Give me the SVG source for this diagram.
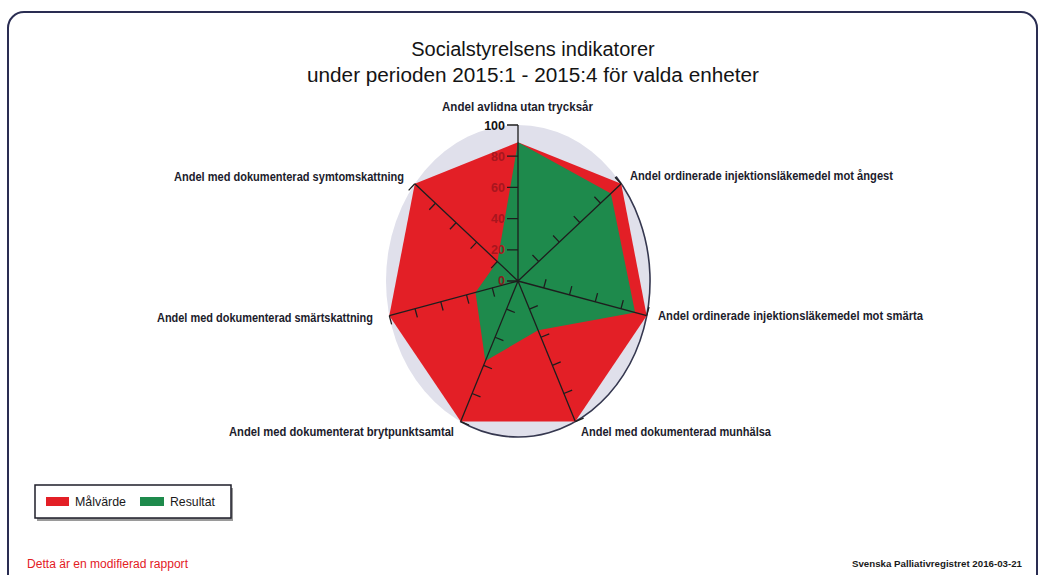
<svg xmlns="http://www.w3.org/2000/svg" width="1045" height="575" viewBox="0 0 1045 575">
  <style>
    .title { font-family: "Liberation Sans", Arial, sans-serif; font-size: 20px; fill: #141414; }
    .lbl { font-family: "Liberation Sans", Arial, sans-serif; font-size: 12.5px; font-weight: bold; fill: #1c1c2c; }
    .num { font-family: "Liberation Sans", Arial, sans-serif; font-size: 12.5px; font-weight: bold; text-anchor: end; }
    .axis { stroke: #1e1e1e; stroke-width: 1.3; fill: none; }
    .leg { font-family: "Liberation Sans", Arial, sans-serif; font-size: 13px; fill: #1a1a1a; }
  </style>
  <rect x="0" y="0" width="1045" height="575" fill="#ffffff"/>
  <g id="frame">
    <rect x="8" y="12" width="1029" height="620" rx="16" ry="16" fill="#ffffff" stroke="#2a2d52" stroke-width="2"/>
  </g>
  <g id="title">
    <text class="title" x="533" y="56" text-anchor="middle">Socialstyrelsens indikatorer</text>
    <text class="title" x="533" y="82" text-anchor="middle" textLength="452" lengthAdjust="spacingAndGlyphs">under perioden 2015:1 - 2015:4 för valda enheter</text>
  </g>
  <g id="radar">
    <ellipse id="background" cx="518" cy="281" rx="132" ry="156" fill="#e0e0eb"/>
    <path d="M 616.1 176.6 A 132 156 0 0 1 460.1 421.2" fill="none" stroke="#35374f" stroke-width="1.6"/>
    <polygon id="malvarde" points="518,142.2 621.2,183.8 646.7,315.7 575.3,421.6 460.7,421.6 389.3,315.7 414.8,183.8" fill="#e31f26"/>
    <polygon id="resultat" points="518,142.2 610.9,193.5 635.1,312.6 538.1,330.2 485.3,361.1 475.5,292.5 497.4,261.6" fill="#1e8a4c"/>
    <g id="scale">
      <text class="num" x="505" y="129.5" fill="#111">100</text>
      <text class="num" x="505" y="160.5" fill="#a8161e">80</text>
      <text class="num" x="505" y="191.5" fill="#a8161e">60</text>
      <text class="num" x="505" y="222.5" fill="#a8161e">40</text>
      <text class="num" x="505" y="254" fill="#a8161e">20</text>
      <text class="num" x="505" y="285" fill="#8a1a1e">0</text>
    </g>
    <g id="axes" class="axis">
      <path d="M518 281 L518 125 M518 281 L621.2 183.8 M518 281 L646.7 315.7 M518 281 L575.3 421.6 M518 281 L460.7 421.6 M518 281 L389.3 315.7 M518 281 L414.8 183.8"/>
      <path d="M507 125 H518 M507 156.2 H518 M507 187.4 H518 M507 218.6 H518 M507 249.8 H518 M507 281 H518"/>
      <path d="M538.64 261.56 L532.47 255.01 M559.28 242.12 L553.11 235.57 M579.92 222.68 L573.75 216.13 M600.56 203.24 L594.39 196.69 M621.2 183.8 L615.03 177.25"/>
      <path d="M543.74 287.94 L546.08 279.25 M569.48 294.88 L571.82 286.19 M595.22 301.82 L597.56 293.13 M620.96 308.76 L623.3 300.07 M646.7 315.7 L649.04 307.01"/>
      <path d="M529.46 309.12 L537.8 305.72 M540.92 337.24 L549.26 333.84 M552.38 365.36 L560.72 361.96 M563.84 393.48 L572.18 390.08 M575.3 421.6 L583.64 418.2"/>
      <path d="M506.54 309.12 L514.88 312.52 M495.08 337.24 L503.42 340.64 M483.62 365.36 L491.96 368.76 M472.16 393.48 L480.5 396.88 M460.7 421.6 L469.04 425"/>
      <path d="M492.26 287.94 L494.6 296.63 M466.52 294.88 L468.86 303.57 M440.78 301.82 L443.12 310.51 M415.04 308.76 L417.38 317.45 M389.3 315.7 L391.64 324.39"/>
      <path d="M497.36 261.56 L491.19 268.11 M476.72 242.12 L470.55 248.67 M456.08 222.68 L449.91 229.23 M435.44 203.24 L429.27 209.79 M414.8 183.8 L408.63 190.35"/>
    </g>
  </g>
  <g id="labels">
    <text class="lbl" x="442" y="111" textLength="151" lengthAdjust="spacingAndGlyphs">Andel avlidna utan trycksår</text>
    <text class="lbl" x="630" y="180" textLength="263" lengthAdjust="spacingAndGlyphs">Andel ordinerade injektionsläkemedel mot ångest</text>
    <text class="lbl" x="658" y="320" textLength="265" lengthAdjust="spacingAndGlyphs">Andel ordinerade injektionsläkemedel mot smärta</text>
    <text class="lbl" x="581" y="436" textLength="190" lengthAdjust="spacingAndGlyphs">Andel med dokumenterad munhälsa</text>
    <text class="lbl" x="229" y="436" textLength="225" lengthAdjust="spacingAndGlyphs">Andel med dokumenterat brytpunktsamtal</text>
    <text class="lbl" x="157" y="322" textLength="216" lengthAdjust="spacingAndGlyphs">Andel med dokumenterad smärtskattning</text>
    <text class="lbl" x="174" y="181" textLength="230" lengthAdjust="spacingAndGlyphs">Andel med dokumenterad symtomskattning</text>
  </g>
  <g id="legend">
    <rect x="37" y="488" width="196" height="33" fill="#9a9a9a"/>
    <rect x="35" y="485" width="196" height="33" fill="#ffffff" stroke="#1e1e2a" stroke-width="1.5"/>
    <rect x="46" y="497" width="23" height="9" fill="#e31f26"/>
    <text class="leg" x="75" y="506" textLength="51" lengthAdjust="spacingAndGlyphs">Målvärde</text>
    <rect x="140" y="497" width="24" height="9" fill="#1e8a4c"/>
    <text class="leg" x="170" y="506" textLength="45" lengthAdjust="spacingAndGlyphs">Resultat</text>
  </g>
  <g id="footer">
    <text x="27" y="568" font-family="Liberation Sans, Arial, sans-serif" font-size="12" fill="#e3201f" textLength="161" lengthAdjust="spacingAndGlyphs">Detta är en modifierad rapport</text>
    <text x="852" y="567" font-family="Liberation Sans, Arial, sans-serif" font-size="9.5" font-weight="bold" fill="#1a1a1a" textLength="170" lengthAdjust="spacingAndGlyphs">Svenska Palliativregistret 2016-03-21</text>
  </g>
</svg>
